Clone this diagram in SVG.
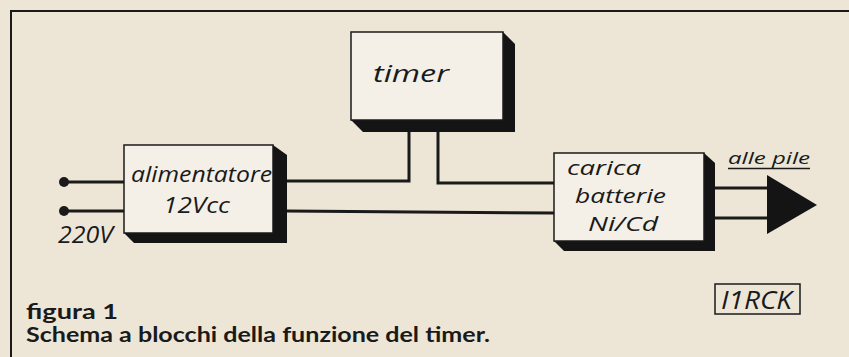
<svg xmlns="http://www.w3.org/2000/svg" width="849" height="357" viewBox="0 0 849 357">
<style>
.bg{fill:#ede6d7}
.box{fill:#f4f0e7;stroke:#1a1a1a;stroke-width:1.5}
.sh{fill:#141414}
.wire{fill:none;stroke:#1a1a1a;stroke-width:3}
.lbl{font-family:"Open Sans","Liberation Sans",sans-serif;font-style:italic;font-weight:400;fill:#1a1a1a}
.cap{font-family:"Lato","Liberation Sans",sans-serif;font-weight:700;fill:#1a1a1a}
</style>
<rect class="bg" x="0" y="0" width="849" height="357"/>
<g id="frame" fill="none" stroke="#1a1a1a" stroke-width="2">
<path d="M11 357 V11 H849"/>
</g>
<g id="connectors">
<circle cx="64" cy="182" r="5" fill="#1a1a1a"/>
<circle cx="64" cy="211" r="5" fill="#1a1a1a"/>
<path class="wire" d="M64 182 H124"/>
<path class="wire" d="M64 211 H124"/>
<path class="wire" d="M287 181 H409 V132"/>
<path class="wire" d="M438 132 V183 H554"/>
<path class="wire" d="M287 211 L554 213"/>
<path class="wire" d="M715 188 H770"/>
<path class="wire" d="M715 218 H770"/>
<polygon points="767,175 817,205 767,234" fill="#141414"/>
</g>
<g id="alimentatore">
<polygon class="sh" points="273,145 287,155 287,243 134,243 124,233"/>
<rect class="box" x="124" y="145" width="149" height="88"/>
<text class="lbl" x="131" y="182" font-size="22" textLength="141" lengthAdjust="spacingAndGlyphs">alimentatore</text>
<text class="lbl" x="163" y="213" font-size="22" textLength="67" lengthAdjust="spacingAndGlyphs">12Vcc</text>
</g>
<text id="v220" class="lbl" x="58" y="243" font-size="23" textLength="55" lengthAdjust="spacingAndGlyphs">220V</text>
<g id="timer">
<polygon class="sh" points="503,32 515,44 515,132 363,132 351,120"/>
<rect class="box" x="351" y="32" width="152" height="88"/>
<text class="lbl" x="373" y="82" font-size="23" textLength="76" lengthAdjust="spacingAndGlyphs">timer</text>
</g>
<g id="carica">
<polygon class="sh" points="704,153 715,163 715,251 564,251 554,241"/>
<rect class="box" x="554" y="153" width="150" height="88"/>
<text class="lbl" x="567" y="175" font-size="20.5" textLength="74" lengthAdjust="spacingAndGlyphs">carica</text>
<text class="lbl" x="575" y="203" font-size="20.5" textLength="91" lengthAdjust="spacingAndGlyphs">batterie</text>
<text class="lbl" x="588" y="231" font-size="20.5" textLength="70" lengthAdjust="spacingAndGlyphs">Ni/Cd</text>
</g>
<g id="alle-pile">
<text class="lbl" x="728" y="164" font-size="17" textLength="82" lengthAdjust="spacingAndGlyphs">alle pile</text>
<path d="M728 168.5 H810" stroke="#1a1a1a" stroke-width="1.5"/>
</g>
<g id="credit">
<rect x="715" y="284" width="85" height="30" fill="none" stroke="#1a1a1a" stroke-width="1.5"/>
<text class="lbl" x="721" y="309" font-size="25" textLength="71" lengthAdjust="spacingAndGlyphs">I1RCK</text>
</g>
<g id="caption">
<text class="cap" x="26" y="319" font-size="20" textLength="92" lengthAdjust="spacingAndGlyphs">figura 1</text>
<text class="cap" x="26" y="342" font-size="21" textLength="464" lengthAdjust="spacingAndGlyphs">Schema a blocchi della funzione del timer.</text>
</g>
</svg>
